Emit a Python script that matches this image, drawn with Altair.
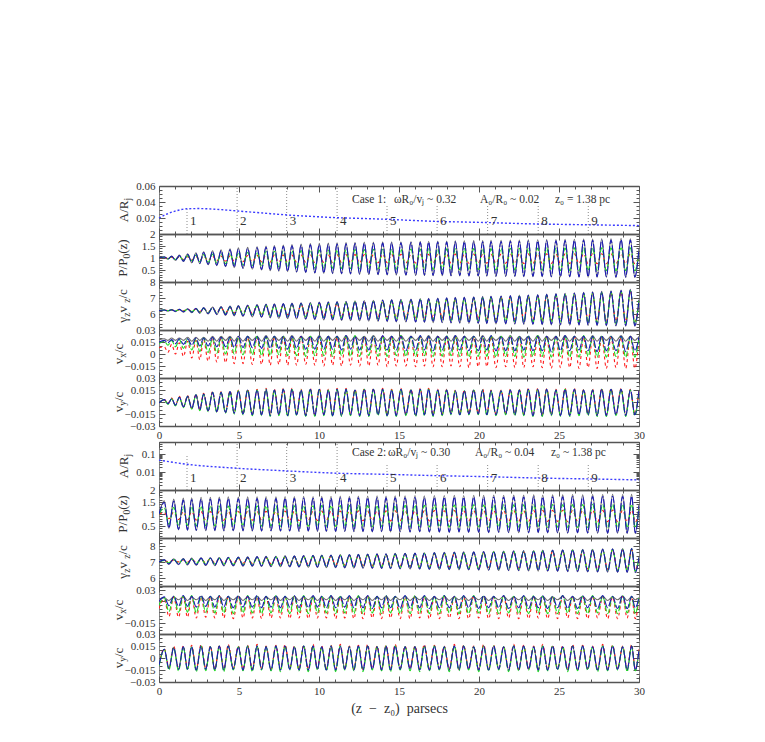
import altair as alt
import pandas as pd

# ------------------------------------------------------------------ data
# positions (pc) of the troughs (first entry = start) and peaks (last entry = end)
Z1_LO = [0.0, 0.56, 1.03, 1.53, 2.05, 2.55, 3.07, 3.61, 4.16, 4.70,
         5.25, 5.83, 6.41, 6.95, 7.49, 8.04, 8.60, 9.17, 9.74, 10.30,
         10.85, 11.41, 11.97, 12.54, 13.11, 13.69, 14.26, 14.83, 15.43, 16.04,
         16.59, 17.13, 17.70, 18.25, 18.80, 19.37, 19.95, 20.49, 21.06, 21.67,
         22.24, 22.80, 23.37, 23.95, 24.52, 25.09, 25.67, 26.25, 26.82, 27.38,
         27.96, 28.56, 29.17, 29.74]
Z1_HI = [0.33, 0.79, 1.27, 1.79, 2.31, 2.79, 3.35, 3.88, 4.44, 4.96,
         5.54, 6.13, 6.69, 7.21, 7.77, 8.31, 8.88, 9.46, 10.02, 10.58,
         11.13, 11.69, 12.25, 12.83, 13.40, 13.98, 14.54, 15.12, 15.75, 16.33,
         16.85, 17.42, 17.98, 18.52, 19.08, 19.67, 20.23, 20.75, 21.38, 21.96,
         22.52, 23.08, 23.67, 24.23, 24.81, 25.38, 25.96, 26.54, 27.10, 27.67,
         28.25, 28.88, 29.46, 30.0]
Z2_LO = [0.0, 0.62, 1.22, 1.78, 2.33, 2.92, 3.49, 4.05, 4.64, 5.25,
         5.83, 6.41, 7.00, 7.59, 8.17, 8.75, 9.33, 9.90, 10.46, 11.04,
         11.61, 12.18, 12.75, 13.33, 13.91, 14.47, 15.07, 15.69, 16.29, 16.90,
         17.52, 18.14, 18.75, 19.35, 19.98, 20.60, 21.23, 21.85, 22.48, 23.10,
         23.70, 24.29, 24.91, 25.54, 26.16, 26.79, 27.41, 28.04, 28.66, 29.26,
         29.77]
Z2_HI = [0.33, 0.92, 1.52, 2.04, 2.63, 3.21, 3.77, 4.33, 4.96, 5.54,
         6.13, 6.69, 7.31, 7.88, 8.46, 9.04, 9.63, 10.17, 10.75, 11.33,
         11.90, 12.46, 13.04, 13.63, 14.19, 14.76, 15.38, 16.00, 16.58, 17.21,
         17.83, 18.46, 19.04, 19.67, 20.29, 20.92, 21.54, 22.17, 22.79, 23.42,
         23.98, 24.60, 25.23, 25.85, 26.48, 27.10, 27.73, 28.35, 28.98, 29.54,
         30.0]

# amplitude A/Rj along the jet
A1_Z = [0, 0.5, 1.0, 1.75, 2.5, 3.5, 4.9, 6.5, 8.0, 9.5, 11.1, 12.7, 14.2, 15.8,
        17.4, 19.0, 20.5, 22.1, 23.7, 25.2, 26.8, 28.4, 30]
A1_V = [0.0200, 0.0250, 0.0285, 0.0315, 0.0318, 0.0310, 0.0288, 0.0262, 0.0238,
        0.0220, 0.0204, 0.0194, 0.0184, 0.0170, 0.0157, 0.0150, 0.0143, 0.0133,
        0.0125, 0.0120, 0.0115, 0.0110, 0.0105]
A2_Z = [0, 1.75, 4.9, 8.0, 11.1, 14.2, 17.4, 20.5, 23.7, 26.8, 30]
A2_V = [0.048, 0.028, 0.0167, 0.0118, 0.0088, 0.0076, 0.0064, 0.0056, 0.0047,
        0.0042, 0.0037]

MARK_Z = [1.75, 4.88, 7.98, 11.13, 14.25, 17.38, 20.54, 23.70, 26.83]
MARK_T = ["1", "2", "3", "4", "5", "6", "7", "8", "9"]
MARK1_TOP = [0.031, 0.06, 0.06, 0.06, 0.037, 0.036, 0.036, 0.036, 0.035]
MARK2_TOP = [0.1, 0.5, 0.5, 0.5, 0.032, 0.032, 0.032, 0.032, 0.032]
MARK1_LABEL_Y = 0.0162
MARK2_LABEL_Y = 0.0048

# ---- case 1, P/P0(z)
P1_GREY_HI = [1.05, 1.08, 1.12, 1.18, 1.22, 1.26, 1.30, 1.34, 1.38, 1.42,
              1.45, 1.47, 1.50, 1.52, 1.54, 1.56, 1.58, 1.60, 1.61, 1.62,
              1.63, 1.64, 1.65, 1.66, 1.66, 1.67, 1.68, 1.68, 1.69, 1.70,
              1.70, 1.71, 1.71, 1.72, 1.72, 1.73, 1.73, 1.74, 1.74, 1.75,
              1.75, 1.76, 1.76, 1.77, 1.77, 1.78, 1.78, 1.79, 1.79, 1.80,
              1.80, 1.81, 1.80, 1.40]
P1_GREY_LO = [1.00, 0.95, 0.90, 0.86, 0.80, 0.76, 0.72, 0.68, 0.64, 0.60,
              0.56, 0.53, 0.50, 0.47, 0.45, 0.43, 0.41, 0.39, 0.37, 0.36,
              0.35, 0.34, 0.33, 0.32, 0.31, 0.30, 0.29, 0.29, 0.28, 0.27,
              0.27, 0.26, 0.26, 0.25, 0.25, 0.24, 0.24, 0.24, 0.23, 0.23,
              0.23, 0.22, 0.22, 0.22, 0.21, 0.21, 0.21, 0.20, 0.20, 0.20,
              0.20, 0.19, 0.19, 0.19]
P1_BLUE_HI = [1.04, 1.07, 1.10, 1.15, 1.19, 1.23, 1.27, 1.30, 1.34, 1.37,
              1.40, 1.42, 1.45, 1.47, 1.49, 1.51, 1.53, 1.55, 1.56, 1.57,
              1.58, 1.59, 1.60, 1.61, 1.61, 1.62, 1.63, 1.63, 1.64, 1.65,
              1.65, 1.66, 1.66, 1.67, 1.67, 1.68, 1.68, 1.69, 1.69, 1.70,
              1.70, 1.71, 1.71, 1.72, 1.72, 1.73, 1.73, 1.74, 1.74, 1.75,
              1.75, 1.76, 1.75, 1.38]
P1_BLUE_LO = [1.00, 0.96, 0.91, 0.87, 0.82, 0.78, 0.74, 0.70, 0.66, 0.62,
              0.58, 0.55, 0.52, 0.49, 0.47, 0.45, 0.43, 0.41, 0.39, 0.38,
              0.37, 0.36, 0.35, 0.34, 0.33, 0.32, 0.31, 0.31, 0.30, 0.29,
              0.29, 0.28, 0.28, 0.27, 0.27, 0.26, 0.26, 0.26, 0.25, 0.25,
              0.25, 0.24, 0.24, 0.24, 0.23, 0.23, 0.23, 0.22, 0.22, 0.22,
              0.22, 0.21, 0.21, 0.21]
P1_GREEN_HI = [1.03, 1.05, 1.07, 1.10, 1.12, 1.14, 1.16, 1.18, 1.20, 1.22,
               1.24, 1.25, 1.27, 1.28, 1.29, 1.30, 1.31, 1.32, 1.33, 1.33,
               1.34, 1.34, 1.35, 1.35, 1.36, 1.36, 1.36, 1.37, 1.37, 1.37,
               1.38, 1.38, 1.38, 1.38, 1.39, 1.39, 1.39, 1.39, 1.40, 1.40,
               1.40, 1.40, 1.41, 1.41, 1.41, 1.41, 1.42, 1.42, 1.42, 1.42,
               1.42, 1.43, 1.42, 1.20]
P1_GREEN_LO = [1.00, 0.97, 0.94, 0.91, 0.88, 0.85, 0.82, 0.79, 0.76, 0.73,
               0.71, 0.69, 0.67, 0.65, 0.63, 0.62, 0.61, 0.60, 0.59, 0.58,
               0.57, 0.56, 0.56, 0.55, 0.55, 0.54, 0.54, 0.53, 0.53, 0.53,
               0.52, 0.52, 0.52, 0.51, 0.51, 0.51, 0.51, 0.50, 0.50, 0.50,
               0.50, 0.49, 0.49, 0.49, 0.49, 0.48, 0.48, 0.48, 0.48, 0.48,
               0.47, 0.47, 0.47, 0.47]
P1_RED_HI = [1.02, 1.03, 1.04, 1.05, 1.06, 1.07, 1.08, 1.08, 1.09, 1.10,
             1.10, 1.11, 1.11, 1.12, 1.12, 1.12, 1.13, 1.13, 1.13, 1.13,
             1.14, 1.14, 1.14, 1.14, 1.14, 1.15, 1.15, 1.15, 1.15, 1.15,
             1.15, 1.15, 1.16, 1.16, 1.16, 1.16, 1.16, 1.16, 1.16, 1.17,
             1.17, 1.17, 1.17, 1.17, 1.17, 1.17, 1.17, 1.18, 1.18, 1.18,
             1.18, 1.18, 1.18, 1.05]
P1_RED_LO = [1.00, 0.98, 0.96, 0.94, 0.92, 0.91, 0.89, 0.88, 0.87, 0.86,
             0.85, 0.84, 0.84, 0.83, 0.83, 0.82, 0.82, 0.82, 0.81, 0.81,
             0.81, 0.81, 0.80, 0.80, 0.80, 0.80, 0.80, 0.79, 0.79, 0.79,
             0.79, 0.79, 0.79, 0.78, 0.78, 0.78, 0.78, 0.78, 0.78, 0.78,
             0.77, 0.77, 0.77, 0.77, 0.77, 0.77, 0.77, 0.77, 0.76, 0.76,
             0.76, 0.76, 0.76, 0.76]

# ---- case 1, gamma_z v_z / c
G1_GREY_HI = [6.26, 6.28, 6.30, 6.33, 6.36, 6.40, 6.43, 6.46, 6.50, 6.53,
              6.56, 6.59, 6.62, 6.64, 6.66, 6.68, 6.70, 6.72, 6.74, 6.76,
              6.78, 6.80, 6.82, 6.84, 6.86, 6.88, 6.90, 6.92, 6.94, 6.96,
              6.98, 7.00, 7.02, 7.04, 7.06, 7.08, 7.10, 7.12, 7.14, 7.16,
              7.18, 7.20, 7.22, 7.25, 7.28, 7.30, 7.33, 7.36, 7.39, 7.42,
              7.45, 7.50, 7.55, 6.90]
G1_GREY_LO = [6.22, 6.18, 6.15, 6.12, 6.08, 6.04, 6.00, 5.96, 5.92, 5.88,
              5.85, 5.82, 5.79, 5.76, 5.73, 5.71, 5.69, 5.67, 5.65, 5.63,
              5.61, 5.60, 5.58, 5.57, 5.55, 5.54, 5.52, 5.51, 5.50, 5.48,
              5.47, 5.46, 5.45, 5.43, 5.42, 5.41, 5.40, 5.39, 5.38, 5.37,
              5.36, 5.35, 5.34, 5.33, 5.32, 5.31, 5.30, 5.29, 5.28, 5.27,
              5.26, 5.25, 5.24, 5.23]
G1_BLUE_HI = [6.25, 6.27, 6.29, 6.31, 6.34, 6.38, 6.41, 6.44, 6.47, 6.50,
              6.53, 6.56, 6.59, 6.61, 6.63, 6.65, 6.67, 6.69, 6.71, 6.73,
              6.75, 6.77, 6.79, 6.81, 6.83, 6.85, 6.87, 6.89, 6.91, 6.93,
              6.95, 6.97, 6.99, 7.01, 7.03, 7.05, 7.07, 7.09, 7.11, 7.13,
              7.15, 7.17, 7.19, 7.22, 7.25, 7.27, 7.30, 7.33, 7.36, 7.39,
              7.42, 7.47, 7.52, 6.88]
G1_BLUE_LO = [6.22, 6.20, 6.17, 6.14, 6.11, 6.07, 6.03, 5.99, 5.96, 5.92,
              5.89, 5.86, 5.83, 5.80, 5.77, 5.75, 5.73, 5.71, 5.69, 5.67,
              5.65, 5.64, 5.62, 5.61, 5.59, 5.58, 5.56, 5.55, 5.54, 5.52,
              5.51, 5.50, 5.49, 5.47, 5.46, 5.45, 5.44, 5.43, 5.42, 5.41,
              5.40, 5.39, 5.38, 5.37, 5.36, 5.35, 5.34, 5.33, 5.32, 5.31,
              5.30, 5.29, 5.28, 5.27]
G1_GREEN_HI = [6.25, 6.26, 6.28, 6.30, 6.32, 6.35, 6.38, 6.40, 6.43, 6.46,
               6.49, 6.51, 6.54, 6.56, 6.58, 6.60, 6.62, 6.64, 6.66, 6.68,
               6.70, 6.72, 6.74, 6.76, 6.78, 6.80, 6.82, 6.84, 6.86, 6.88,
               6.90, 6.92, 6.94, 6.96, 6.98, 7.00, 7.02, 7.04, 7.06, 7.08,
               7.10, 7.12, 7.14, 7.17, 7.20, 7.22, 7.25, 7.28, 7.31, 7.34,
               7.37, 7.42, 7.47, 6.90]
G1_GREEN_LO = [6.22, 6.21, 6.19, 6.17, 6.15, 6.12, 6.09, 6.06, 6.03, 6.00,
               5.98, 5.95, 5.93, 5.90, 5.88, 5.86, 5.84, 5.82, 5.80, 5.78,
               5.77, 5.75, 5.74, 5.72, 5.71, 5.69, 5.68, 5.67, 5.65, 5.64,
               5.63, 5.62, 5.61, 5.59, 5.58, 5.57, 5.56, 5.55, 5.54, 5.53,
               5.52, 5.51, 5.50, 5.49, 5.48, 5.47, 5.46, 5.45, 5.44, 5.43,
               5.42, 5.41, 5.40, 5.39]
G1_RED_HI = [6.24, 6.25, 6.27, 6.29, 6.31, 6.34, 6.36, 6.38, 6.41, 6.43,
             6.46, 6.48, 6.50, 6.52, 6.54, 6.56, 6.58, 6.60, 6.62, 6.64,
             6.66, 6.68, 6.70, 6.72, 6.74, 6.76, 6.78, 6.80, 6.82, 6.84,
             6.86, 6.88, 6.90, 6.92, 6.94, 6.96, 6.98, 7.00, 7.02, 7.04,
             7.06, 7.08, 7.10, 7.13, 7.16, 7.18, 7.21, 7.24, 7.27, 7.30,
             7.33, 7.38, 7.43, 6.88]
G1_RED_LO = [6.22, 6.22, 6.21, 6.20, 6.18, 6.16, 6.14, 6.12, 6.09, 6.07,
             6.05, 6.03, 6.01, 5.99, 5.97, 5.95, 5.94, 5.92, 5.90, 5.89,
             5.87, 5.86, 5.85, 5.83, 5.82, 5.81, 5.80, 5.79, 5.78, 5.76,
             5.75, 5.74, 5.73, 5.72, 5.71, 5.70, 5.69, 5.68, 5.67, 5.66,
             5.65, 5.64, 5.63, 5.62, 5.61, 5.60, 5.59, 5.58, 5.57, 5.56,
             5.55, 5.54, 5.53, 5.52]

# ---- case 1, vx/c (units of 1e-3)
X1_GREY_HI = [19, 20, 20, 21, 21, 21, 22, 22, 22, 22,
              22, 22, 23, 22, 22, 23, 22, 22, 23, 22,
              22, 23, 22, 22, 23, 22, 22, 23, 22, 22,
              23, 22, 22, 23, 22, 22, 23, 22, 22, 23,
              22, 22, 23, 22, 22, 23, 22, 22, 23, 22,
              22, 23, 22, 22]
X1_GREY_LO = [18, 17, 17, 17, 16, 17, 16, 16, 17, 16,
              16, 17, 16, 16, 17, 16, 16, 17, 16, 16,
              17, 16, 16, 17, 16, 16, 17, 16, 16, 17,
              16, 16, 17, 16, 16, 17, 16, 16, 17, 16,
              16, 17, 16, 16, 17, 16, 16, 17, 16, 16,
              17, 16, 16, 17]
X1_BLUE_HI = [17, 18, 19, 19, 20, 20, 21, 21, 21, 22,
              22, 22, 22, 22, 22, 22, 22, 22, 22, 22,
              22, 23, 22, 22, 22, 23, 22, 22, 22, 23,
              22, 22, 22, 23, 22, 22, 22, 23, 22, 22,
              22, 23, 22, 22, 22, 23, 22, 22, 22, 23,
              22, 22, 22, 21]
X1_BLUE_LO = [15, 14, 13, 12, 11, 10, 10, 9, 9, 8,
              8, 8, 7, 7, 7, 6, 7, 6, 6, 6,
              6, 5, 6, 5, 5, 6, 5, 5, 4, 5,
              5, 4, 5, 4, 5, 4, 4, 5, 4, 4,
              4, 5, 4, 4, 3, 4, 4, 5, 4, 3,
              4, 4, 3, 4]
X1_GREEN_HI = [16, 17, 18, 19, 19, 20, 20, 21, 21, 21,
               22, 22, 22, 22, 22, 22, 22, 22, 22, 22,
               22, 22, 23, 22, 22, 22, 22, 23, 22, 22,
               22, 22, 23, 22, 22, 22, 22, 23, 22, 22,
               22, 22, 23, 22, 22, 22, 22, 23, 22, 22,
               22, 22, 22, 21]
X1_GREEN_LO = [13, 11, 9, 7, 5, 3, 2, 1, 0, 0,
               -1, -1, -2, -2, -1, -2, -2, -3, -2, -2,
               -3, -2, -3, -3, -2, -3, -3, -2, -3, -3,
               -2, -3, -3, -2, -3, -4, -3, -3, -4, -3,
               -3, -4, -3, -3, -4, -3, -4, -4, -3, -4,
               -4, -3, -4, -4]
X1_RED_HI = [9, 12, 14, 16, 17, 18, 19, 20, 20, 21,
             21, 21, 21, 22, 21, 21, 22, 21, 21, 22,
             21, 21, 22, 21, 21, 22, 21, 21, 22, 21,
             21, 22, 21, 21, 22, 21, 21, 22, 21, 21,
             22, 21, 21, 22, 21, 21, 22, 21, 21, 22,
             21, 21, 22, 20]
X1_RED_LO = [8, 2, 0, -3, -5, -7, -9, -10, -11, -12,
             -12, -13, -13, -14, -13, -14, -14, -13, -14, -15,
             -14, -15, -14, -15, -15, -14, -16, -15, -15, -16,
             -15, -16, -16, -15, -16, -17, -16, -16, -17, -16,
             -17, -17, -16, -17, -18, -17, -17, -18, -17, -18,
             -18, -17, -18, -18]

# ---- case 1, vy/c (units of 1e-3)
Y1_BLUE_HI = [3, 4, 6, 7, 9, 10, 12, 12, 13, 14,
              15, 15, 16, 15, 16, 16, 15, 16, 16, 15,
              16, 16, 15, 16, 16, 16, 15, 16, 15, 16,
              16, 15, 15, 14, 14, 15, 15, 14, 14, 15,
              15, 16, 16, 16, 15, 16, 16, 15, 15, 16,
              16, 16, 15, 14]
Y1_BLUE_LO = [-1, -2, -4, -6, -8, -10, -11, -12, -13, -14,
              -15, -16, -16, -17, -16, -17, -16, -17, -17, -16,
              -17, -17, -16, -17, -17, -16, -17, -17, -16, -17,
              -16, -17, -16, -15, -16, -15, -15, -16, -16, -15,
              -16, -16, -17, -17, -16, -17, -17, -16, -16, -17,
              -17, -16, -17, -16]
Y1_RED_HI = [3, 5, 7, 8, 10, 11, 13, 13, 14, 15,
             16, 16, 17, 16, 17, 17, 16, 17, 17, 16,
             17, 17, 16, 17, 17, 17, 16, 17, 16, 17,
             17, 16, 16, 15, 15, 16, 16, 15, 15, 16,
             16, 17, 17, 17, 16, 17, 17, 16, 16, 17,
             17, 17, 16, 15]
Y1_RED_LO = [-1, -2, -4, -6, -8, -9, -11, -12, -13, -14,
             -15, -15, -16, -16, -15, -16, -15, -16, -16, -15,
             -16, -16, -15, -16, -16, -15, -16, -16, -15, -16,
             -15, -16, -15, -14, -15, -14, -14, -15, -15, -14,
             -15, -15, -16, -16, -15, -16, -16, -15, -15, -16,
             -16, -15, -16, -15]
Y1_GREEN_LO = [-1, -3, -5, -7, -9, -11, -12, -13, -14, -15,
               -16, -17, -17, -18, -17, -18, -17, -18, -18, -17,
               -18, -18, -17, -18, -18, -17, -18, -18, -17, -18,
               -17, -18, -17, -16, -17, -16, -16, -17, -17, -16,
               -17, -17, -18, -18, -17, -18, -18, -17, -17, -18,
               -18, -17, -18, -17]

# ---- case 2, P/P0(z)
P2_GREY_HI = [1.55, 1.62, 1.66, 1.68, 1.70, 1.70, 1.71, 1.72, 1.71, 1.72,
              1.72, 1.73, 1.72, 1.73, 1.73, 1.74, 1.73, 1.74, 1.74, 1.75,
              1.74, 1.75, 1.75, 1.76, 1.75, 1.76, 1.76, 1.77, 1.76, 1.77,
              1.77, 1.78, 1.77, 1.78, 1.78, 1.79, 1.78, 1.79, 1.79, 1.80,
              1.79, 1.80, 1.80, 1.81, 1.80, 1.81, 1.81, 1.82, 1.81, 1.82,
              1.40]
P2_GREY_LO = [1.00, 0.40, 0.34, 0.32, 0.31, 0.30, 0.30, 0.29, 0.30, 0.29,
              0.29, 0.28, 0.29, 0.28, 0.28, 0.27, 0.28, 0.27, 0.27, 0.26,
              0.27, 0.26, 0.26, 0.25, 0.26, 0.25, 0.25, 0.24, 0.25, 0.24,
              0.24, 0.23, 0.24, 0.23, 0.23, 0.22, 0.23, 0.22, 0.22, 0.21,
              0.22, 0.21, 0.21, 0.20, 0.21, 0.20, 0.20, 0.19, 0.20, 0.19,
              0.19]
P2_BLUE_HI = [1.48, 1.54, 1.58, 1.60, 1.62, 1.62, 1.63, 1.64, 1.63, 1.64,
              1.64, 1.65, 1.64, 1.65, 1.65, 1.66, 1.65, 1.66, 1.66, 1.67,
              1.66, 1.67, 1.67, 1.68, 1.67, 1.68, 1.68, 1.69, 1.68, 1.69,
              1.69, 1.70, 1.69, 1.70, 1.70, 1.71, 1.70, 1.71, 1.71, 1.72,
              1.71, 1.72, 1.72, 1.73, 1.72, 1.73, 1.73, 1.74, 1.73, 1.74,
              1.35]
P2_BLUE_LO = [1.00, 0.42, 0.36, 0.34, 0.33, 0.32, 0.32, 0.31, 0.32, 0.31,
              0.31, 0.30, 0.31, 0.30, 0.30, 0.29, 0.30, 0.29, 0.29, 0.28,
              0.29, 0.28, 0.28, 0.27, 0.28, 0.27, 0.27, 0.26, 0.27, 0.26,
              0.26, 0.25, 0.26, 0.25, 0.25, 0.24, 0.25, 0.24, 0.24, 0.23,
              0.24, 0.23, 0.23, 0.22, 0.23, 0.22, 0.22, 0.21, 0.22, 0.21,
              0.21]
P2_GREEN_HI = [1.25, 1.28, 1.30, 1.31, 1.32, 1.32, 1.33, 1.33, 1.32, 1.33,
               1.33, 1.34, 1.33, 1.34, 1.34, 1.35, 1.34, 1.35, 1.35, 1.35,
               1.35, 1.36, 1.35, 1.36, 1.36, 1.36, 1.36, 1.37, 1.36, 1.37,
               1.37, 1.37, 1.37, 1.38, 1.37, 1.38, 1.38, 1.38, 1.38, 1.39,
               1.38, 1.39, 1.39, 1.39, 1.39, 1.40, 1.39, 1.40, 1.40, 1.40,
               1.20]
P2_GREEN_LO = [1.00, 0.58, 0.54, 0.52, 0.51, 0.51, 0.50, 0.50, 0.51, 0.50,
               0.50, 0.49, 0.50, 0.49, 0.49, 0.49, 0.49, 0.48, 0.49, 0.48,
               0.48, 0.48, 0.48, 0.47, 0.48, 0.47, 0.47, 0.47, 0.47, 0.46,
               0.47, 0.46, 0.46, 0.46, 0.46, 0.45, 0.46, 0.45, 0.45, 0.45,
               0.45, 0.44, 0.45, 0.44, 0.44, 0.44, 0.44, 0.43, 0.44, 0.43,
               0.43]
P2_RED_HI = [1.06, 1.08, 1.09, 1.10, 1.10, 1.10, 1.11, 1.11, 1.10, 1.11,
             1.11, 1.11, 1.11, 1.12, 1.11, 1.12, 1.12, 1.12, 1.12, 1.12,
             1.12, 1.13, 1.12, 1.13, 1.13, 1.13, 1.13, 1.13, 1.13, 1.14,
             1.13, 1.14, 1.14, 1.14, 1.14, 1.14, 1.14, 1.15, 1.14, 1.15,
             1.15, 1.15, 1.15, 1.15, 1.15, 1.16, 1.15, 1.16, 1.16, 1.16,
             1.05]
P2_RED_LO = [1.00, 0.80, 0.77, 0.76, 0.75, 0.75, 0.75, 0.74, 0.75, 0.74,
             0.74, 0.74, 0.74, 0.73, 0.74, 0.73, 0.73, 0.73, 0.73, 0.72,
             0.73, 0.72, 0.72, 0.72, 0.72, 0.71, 0.72, 0.71, 0.71, 0.71,
             0.71, 0.70, 0.71, 0.70, 0.70, 0.70, 0.70, 0.69, 0.70, 0.69,
             0.69, 0.69, 0.69, 0.68, 0.69, 0.68, 0.68, 0.68, 0.68, 0.67,
             0.67]

# ---- case 2, gamma_z v_z / c
G2_GREY_HI = [7.15, 7.20, 7.22, 7.24, 7.26, 7.27, 7.28, 7.30, 7.31, 7.32,
              7.34, 7.35, 7.36, 7.38, 7.39, 7.40, 7.42, 7.43, 7.44, 7.46,
              7.47, 7.48, 7.50, 7.51, 7.52, 7.54, 7.55, 7.56, 7.58, 7.59,
              7.60, 7.62, 7.63, 7.64, 7.66, 7.67, 7.68, 7.70, 7.71, 7.72,
              7.74, 7.75, 7.76, 7.78, 7.79, 7.80, 7.82, 7.83, 7.84, 7.86,
              7.30]
G2_GREY_LO = [7.00, 6.85, 6.83, 6.81, 6.80, 6.78, 6.77, 6.76, 6.75, 6.74,
              6.73, 6.72, 6.71, 6.70, 6.69, 6.68, 6.67, 6.66, 6.65, 6.64,
              6.63, 6.62, 6.61, 6.60, 6.59, 6.58, 6.57, 6.56, 6.55, 6.54,
              6.53, 6.52, 6.51, 6.50, 6.49, 6.48, 6.47, 6.46, 6.45, 6.44,
              6.43, 6.42, 6.41, 6.40, 6.39, 6.38, 6.37, 6.36, 6.35, 6.34,
              6.33]
G2_BLUE_HI = [7.13, 7.18, 7.20, 7.22, 7.24, 7.25, 7.26, 7.28, 7.29, 7.30,
              7.32, 7.33, 7.34, 7.36, 7.37, 7.38, 7.40, 7.41, 7.42, 7.44,
              7.45, 7.46, 7.48, 7.49, 7.50, 7.52, 7.53, 7.54, 7.56, 7.57,
              7.58, 7.60, 7.61, 7.62, 7.64, 7.65, 7.66, 7.68, 7.69, 7.70,
              7.72, 7.73, 7.74, 7.76, 7.77, 7.78, 7.80, 7.81, 7.82, 7.84,
              7.28]
G2_BLUE_LO = [7.00, 6.88, 6.86, 6.84, 6.83, 6.81, 6.80, 6.79, 6.78, 6.77,
              6.76, 6.75, 6.74, 6.73, 6.72, 6.71, 6.70, 6.69, 6.68, 6.67,
              6.66, 6.65, 6.64, 6.63, 6.62, 6.61, 6.60, 6.59, 6.58, 6.57,
              6.56, 6.55, 6.54, 6.53, 6.52, 6.51, 6.50, 6.49, 6.48, 6.47,
              6.46, 6.45, 6.44, 6.43, 6.42, 6.41, 6.40, 6.39, 6.38, 6.37,
              6.36]
G2_GREEN_HI = [7.10, 7.15, 7.17, 7.19, 7.21, 7.22, 7.23, 7.25, 7.26, 7.27,
               7.29, 7.30, 7.31, 7.33, 7.34, 7.35, 7.37, 7.38, 7.39, 7.41,
               7.42, 7.43, 7.45, 7.46, 7.47, 7.49, 7.50, 7.51, 7.53, 7.54,
               7.55, 7.57, 7.58, 7.59, 7.61, 7.62, 7.63, 7.65, 7.66, 7.67,
               7.69, 7.70, 7.71, 7.73, 7.74, 7.75, 7.77, 7.78, 7.79, 7.81,
               7.25]
G2_GREEN_LO = [7.00, 6.95, 6.93, 6.91, 6.90, 6.88, 6.87, 6.86, 6.85, 6.84,
               6.83, 6.82, 6.81, 6.80, 6.79, 6.78, 6.77, 6.76, 6.75, 6.74,
               6.73, 6.72, 6.71, 6.70, 6.69, 6.68, 6.67, 6.66, 6.65, 6.64,
               6.63, 6.62, 6.61, 6.60, 6.59, 6.58, 6.57, 6.56, 6.55, 6.54,
               6.53, 6.52, 6.51, 6.50, 6.49, 6.48, 6.47, 6.46, 6.45, 6.44,
               6.43]
G2_RED_HI = [7.06, 7.11, 7.13, 7.15, 7.17, 7.18, 7.19, 7.21, 7.22, 7.23,
             7.25, 7.26, 7.27, 7.29, 7.30, 7.31, 7.33, 7.34, 7.35, 7.37,
             7.38, 7.39, 7.41, 7.42, 7.43, 7.45, 7.46, 7.47, 7.49, 7.50,
             7.51, 7.53, 7.54, 7.55, 7.57, 7.58, 7.59, 7.61, 7.62, 7.63,
             7.65, 7.66, 7.67, 7.69, 7.70, 7.71, 7.73, 7.74, 7.75, 7.77,
             7.22]
G2_RED_LO = [7.00, 7.03, 7.01, 6.99, 6.98, 6.96, 6.95, 6.94, 6.93, 6.92,
             6.91, 6.90, 6.89, 6.88, 6.87, 6.86, 6.85, 6.84, 6.83, 6.82,
             6.81, 6.80, 6.79, 6.78, 6.77, 6.76, 6.75, 6.74, 6.73, 6.72,
             6.71, 6.70, 6.69, 6.68, 6.67, 6.66, 6.65, 6.64, 6.63, 6.62,
             6.61, 6.60, 6.59, 6.58, 6.57, 6.56, 6.55, 6.54, 6.53, 6.52,
             6.51]

# ---- case 2, vx/c (units of 1e-3)
X2_GREY_HI = [20, 21, 22, 21, 22, 21, 22, 21, 22, 21,
              22, 21, 22, 21, 22, 21, 22, 21, 22, 21,
              22, 21, 22, 21, 22, 21, 22, 21, 22, 21,
              22, 21, 22, 21, 22, 21, 22, 21, 22, 21,
              22, 21, 22, 21, 22, 21, 22, 21, 22, 21,
              20]
X2_GREY_LO = [18, 16, 17, 16, 17, 16, 17, 16, 17, 16,
              17, 16, 17, 16, 17, 16, 17, 16, 17, 16,
              17, 16, 17, 16, 17, 16, 17, 16, 17, 16,
              17, 16, 17, 16, 17, 16, 17, 16, 17, 16,
              17, 16, 17, 16, 17, 16, 17, 16, 17, 16,
              17]
X2_BLUE_HI = [21, 22, 23, 22, 23, 22, 23, 22, 23, 22,
              23, 22, 23, 22, 23, 22, 23, 22, 23, 22,
              23, 22, 23, 22, 23, 22, 23, 22, 23, 22,
              23, 22, 23, 22, 23, 22, 23, 22, 23, 22,
              23, 22, 23, 22, 23, 22, 23, 22, 23, 22,
              21]
X2_BLUE_LO = [15, 9, 8, 8, 7, 8, 7, 7, 6, 7,
              7, 6, 7, 6, 7, 6, 6, 7, 6, 6,
              7, 6, 6, 5, 6, 6, 5, 6, 6, 5,
              6, 6, 5, 6, 5, 6, 6, 5, 6, 5,
              6, 5, 6, 5, 5, 6, 5, 6, 5, 5,
              6]
X2_GREEN_HI = [20, 22, 22, 23, 22, 22, 23, 22, 22, 23,
               22, 22, 23, 22, 22, 23, 22, 22, 23, 22,
               22, 23, 22, 22, 23, 22, 22, 23, 22, 22,
               23, 22, 22, 23, 22, 22, 23, 22, 22, 23,
               22, 22, 23, 22, 22, 23, 22, 22, 23, 22,
               21]
X2_GREEN_LO = [10, 1, 0, 0, -1, 0, -1, -1, -2, -1,
               -1, -2, -1, -1, -2, -1, -2, -1, -1, -2,
               -1, -2, -2, -1, -2, -1, -2, -2, -1, -2,
               -2, -1, -2, -2, -1, -2, -2, -1, -2, -2,
               -1, -2, -2, -1, -2, -2, -1, -2, -2, -1,
               -2]
X2_RED_HI = [18, 21, 21, 22, 21, 21, 22, 21, 21, 22,
             21, 21, 22, 21, 21, 22, 21, 21, 22, 21,
             21, 22, 21, 21, 22, 21, 21, 22, 21, 21,
             22, 21, 21, 22, 21, 21, 22, 21, 21, 22,
             21, 21, 22, 21, 21, 22, 21, 21, 22, 21,
             20]
X2_RED_LO = [5, -6, -7, -7, -8, -7, -8, -8, -9, -8,
             -8, -9, -8, -8, -9, -8, -9, -8, -8, -9,
             -8, -9, -9, -8, -9, -8, -9, -9, -8, -9,
             -9, -8, -9, -9, -8, -9, -9, -8, -9, -9,
             -8, -9, -9, -8, -9, -9, -8, -9, -9, -8,
             -9]

# ---- case 2, vy/c (units of 1e-3)
Y2_BLUE_HI = [11, 13, 14, 14, 15, 14, 15, 15, 14, 15,
              15, 14, 15, 15, 14, 15, 15, 14, 15, 15,
              14, 15, 15, 14, 15, 15, 14, 14, 15, 15,
              14, 15, 15, 14, 15, 15, 14, 15, 15, 14,
              15, 15, 14, 15, 15, 14, 15, 15, 14, 15,
              10]
Y2_BLUE_LO = [-9, -13, -14, -14, -15, -14, -15, -15, -14, -15,
              -15, -14, -15, -15, -14, -15, -15, -14, -15, -15,
              -14, -15, -15, -14, -15, -15, -14, -14, -15, -15,
              -14, -15, -15, -14, -15, -15, -14, -15, -15, -14,
              -15, -15, -14, -15, -15, -14, -15, -15, -14, -15,
              -15]
Y2_RED_HI = [12, 15, 15, 16, 17, 15, 16, 17, 15, 16,
             17, 15, 16, 17, 15, 16, 17, 15, 16, 17,
             15, 16, 17, 15, 16, 17, 15, 15, 17, 16,
             15, 17, 16, 15, 17, 16, 15, 17, 16, 15,
             17, 16, 15, 17, 16, 15, 17, 16, 15, 17,
             11]
Y2_RED_LO = [-8, -12, -13, -13, -14, -13, -14, -14, -13, -14,
             -14, -13, -14, -14, -13, -14, -14, -13, -14, -14,
             -13, -14, -14, -13, -14, -14, -13, -13, -14, -14,
             -13, -14, -14, -13, -14, -14, -13, -14, -14, -13,
             -14, -14, -13, -14, -14, -13, -14, -14, -13, -14,
             -14]
Y2_GREEN_LO = [-10, -15, -16, -15, -17, -16, -16, -17, -15, -16,
               -17, -15, -16, -17, -15, -16, -17, -15, -16, -17,
               -15, -16, -17, -15, -16, -17, -15, -16, -17, -16,
               -15, -17, -16, -15, -17, -16, -15, -17, -16, -15,
               -17, -16, -15, -17, -16, -15, -17, -16, -15, -17,
               -16]

VEL_UNIT = 0.001

# ------------------------------------------------------------------ style
W, H = 480, 48
GAP = 16
TICK_FONT = "Liberation Serif"
TITLE_FONT = "Liberation Serif"
TXT = "#333333"
XS = alt.Scale(domain=[0, 30], nice=False, zero=False)
X_MAJOR = [0, 5, 10, 15, 20, 25, 30]
X_MINOR = list(range(0, 31))

STYLE = {
    "grey": ("#6c6c6c", None),
    "red": ("#ff1a1a", [3, 3]),
    "green": ("#1fdc1f", [6, 2]),
    "blue": ("#1a1ab4", [8, 2]),
}
DRAW_ORDER = ["grey", "red", "green", "blue"]

EM = {"A": .722, "R": .667, "P": .556, "/": .278, "(": .333, ")": .333,
      "z": .444, "v": .5, "c": .444, "x": .5, "y": .5, "j": .278, "0": .5,
      "γ": .46, " ": .25}
TITLE_SIZE = 13
SUB_SIZE = 9.5
NB = "\u00a0"


def text_w(t, sub):
    return sum(EM.get(ch, .5) for ch in t) * (SUB_SIZE if sub else TITLE_SIZE)


def wave(zlo, zhi, lo, hi, unit=1.0):
    n = min(len(zlo), len(zhi), len(lo), len(hi))
    z, v = [], []
    for i in range(n):
        z += [zlo[i], zhi[i]]
        v += [lo[i] * unit, hi[i] * unit]
    return pd.DataFrame({"z": z, "v": v, "o": list(range(len(z)))})


def frames(zlo, zhi, pairs, unit=1.0):
    return {k: wave(zlo, zhi, lo, hi, unit) for k, (lo, hi) in pairs.items()}


def title_layers(pieces, x=-36):
    total = sum(text_w(t, s) for t, s in pieces)
    y = H / 2 + total / 2
    anchor = pd.DataFrame({"k": [0]})
    out = []
    for t, s in pieces:
        out.append(alt.Chart(anchor).mark_text(
            angle=270, align="left", baseline="middle", font=TITLE_FONT,
            fontSize=SUB_SIZE if s else TITLE_SIZE, color=TXT).encode(
            x=alt.value(x + (3.5 if s else 0)), y=alt.value(y), text=alt.value(t)))
        y -= text_w(t, s)
    return out


def axis_layers(ys, ydom, ylab, ymaj, ymin, show_bottom=False, bottom_title=None):
    anchor = pd.DataFrame({"z": [0.0], "v": [ydom[0]]})

    def L(xax=None, yax=None):
        return alt.Chart(anchor).mark_point(opacity=0).encode(
            x=alt.X("z:Q", scale=XS, axis=xax),
            y=alt.Y("v:Q", scale=ys, axis=yax))

    c = dict(grid=False, title=None, labels=False)
    out = [
        L(xax=alt.Axis(orient="top", offset=-H, values=X_MAJOR, tickSize=6,
                       domain=True, domainWidth=1.3, **c)),
        L(xax=alt.Axis(orient="top", offset=-H, values=X_MINOR, tickSize=3,
                       domain=False, **c)),
        L(xax=alt.Axis(orient="bottom", offset=-H, values=X_MAJOR, tickSize=6,
                       domain=True, domainWidth=1.3, **c)),
        L(xax=alt.Axis(orient="bottom", offset=-H, values=X_MINOR, tickSize=3,
                       domain=False, **c)),
        L(yax=alt.Axis(orient="right", offset=-W, values=ymaj, tickSize=6,
                       domain=False, **c)),
        L(yax=alt.Axis(orient="right", offset=-W, values=ymin, tickSize=3,
                       domain=False, **c)),
        L(yax=alt.Axis(orient="left", offset=-W, values=ymaj, tickSize=6,
                       domain=False, **c)),
        L(yax=alt.Axis(orient="left", offset=-W, values=ymin, tickSize=3,
                       domain=False, **c)),
        L(yax=alt.Axis(orient="left", values=ylab, ticks=False, domain=False,
                       grid=False, title=None, labelPadding=4,
                       labelExpr="format(datum.value, '~g')")),
    ]
    if show_bottom:
        if bottom_title:
            ax = alt.Axis(orient="bottom", values=X_MAJOR, ticks=False, domain=False,
                          grid=False, format="d", labelPadding=3, labelFlush=False,
                          title=bottom_title, titlePadding=5)
        else:
            ax = alt.Axis(orient="bottom", values=X_MAJOR, ticks=False, domain=False,
                          grid=False, format="d", labelPadding=3, labelFlush=False,
                          title=None)
        out.append(L(xax=ax))
    return out


def wave_panel(fr, ydom, ylab, ymaj, ymin, title, title_x=-36, show_bottom=False,
               bottom_title=None):
    ys = alt.Scale(domain=ydom, nice=False, zero=False)
    layers = []
    for name in DRAW_ORDER:
        col, dash = STYLE[name]
        kw = dict(color=col, strokeWidth=1.1, interpolate="monotone", clip=True)
        if dash:
            kw["strokeDash"] = dash
        layers.append(alt.Chart(fr[name]).mark_line(**kw).encode(
            x=alt.X("z:Q", scale=XS, axis=None),
            y=alt.Y("v:Q", scale=ys, axis=None),
            order="o:Q"))
    layers += axis_layers(ys, ydom, ylab, ymaj, ymin, show_bottom, bottom_title)
    layers += title_layers(title, title_x)
    return alt.layer(*layers).resolve_axis(x="independent", y="independent").properties(
        width=W, height=H)


def amp_panel(az, av, ydom, ytype, ylab, ymaj, ymin, tops, laby, case_texts, case_y):
    ys = alt.Scale(domain=ydom, type=ytype, nice=False, zero=False)
    rules = pd.DataFrame({"z": MARK_Z, "v0": [ydom[0]] * len(MARK_Z), "v1": tops})
    labels = pd.DataFrame({"z": MARK_Z, "v": [laby] * len(MARK_Z), "t": MARK_T})
    curve = pd.DataFrame({"z": az, "v": av})
    layers = [
        alt.Chart(rules).mark_rule(color="#8a8a8a", strokeDash=[1, 2], strokeWidth=1).encode(
            x=alt.X("z:Q", scale=XS, axis=None),
            y=alt.Y("v0:Q", scale=ys, axis=None), y2="v1:Q"),
        alt.Chart(curve).mark_line(color="#3b3bff", strokeDash=[2, 2], strokeWidth=1.4,
                                   interpolate="monotone").encode(
            x=alt.X("z:Q", scale=XS, axis=None),
            y=alt.Y("v:Q", scale=ys, axis=None)),
        alt.Chart(labels).mark_text(align="left", baseline="middle", dx=3, font=TICK_FONT,
                                    fontSize=13, color=TXT).encode(
            x=alt.X("z:Q", scale=XS, axis=None),
            y=alt.Y("v:Q", scale=ys, axis=None), text="t:N"),
    ]
    anchor = pd.DataFrame({"k": [0]})
    for xpix, t in case_texts:
        layers.append(alt.Chart(anchor).mark_text(
            align="left", baseline="middle", font=TITLE_FONT, fontSize=11.5, color=TXT).encode(
            x=alt.value(xpix), y=alt.value(case_y), text=alt.value(t)))
    layers += axis_layers(ys, ydom, ylab, ymaj, ymin)
    layers += title_layers([("A/R", 0), ("j", 1)], -35)
    return alt.layer(*layers).resolve_axis(x="independent", y="independent").properties(
        width=W, height=H)


def steps(a, b, s):
    n = int(round((b - a) / s))
    return [round(a + i * s, 6) for i in range(n + 1)]


T_P = [("P/P", 0), ("0", 1), ("(z)", 0)]
T_G = [("γ", 0), ("z", 1), (" v", 0), ("z", 1), ("/c", 0)]
T_X = [("v", 0), ("x", 1), ("/c", 0)]
T_Y = [("v", 0), ("y", 1), ("/c", 0)]
LOG_MINOR = [k * 10.0 ** e for e in (-3, -2, -1) for k in range(2, 10) if k * 10.0 ** e <= 0.5]
V_TITLE_X = -40

# ------------------------------------------------------------------ case 1
c1_texts = [(193, "Case 1:"), (235, "ωR₀/vⱼ ~ 0.32"), (321, "A₀/R₀ ~ 0.02"),
            (396, "z₀ = 1.38 pc")]
p1a = amp_panel(A1_Z, A1_V, [0, 0.06], "linear", [0.02, 0.04, 0.06], [0.02, 0.04],
                steps(0.005, 0.055, 0.005), MARK1_TOP, MARK1_LABEL_Y, c1_texts, 14)
p1p = wave_panel(frames(Z1_LO, Z1_HI, {
    "grey": (P1_GREY_LO, P1_GREY_HI), "blue": (P1_BLUE_LO, P1_BLUE_HI),
    "green": (P1_GREEN_LO, P1_GREEN_HI), "red": (P1_RED_LO, P1_RED_HI)}),
    [0, 2], [0.5, 1, 1.5, 2], [0.5, 1, 1.5], steps(0.1, 1.9, 0.1), T_P)
p1g = wave_panel(frames(Z1_LO, Z1_HI, {
    "grey": (G1_GREY_LO, G1_GREY_HI), "blue": (G1_BLUE_LO, G1_BLUE_HI),
    "green": (G1_GREEN_LO, G1_GREEN_HI), "red": (G1_RED_LO, G1_RED_HI)}),
    [5, 8], [6, 7, 8], [6, 7], steps(5.2, 7.8, 0.2), T_G)
p1x = wave_panel(frames(Z1_LO, Z1_HI, {
    "grey": (X1_GREY_LO, X1_GREY_HI), "blue": (X1_BLUE_LO, X1_BLUE_HI),
    "green": (X1_GREEN_LO, X1_GREEN_HI), "red": (X1_RED_LO, X1_RED_HI)}, VEL_UNIT),
    [-0.03, 0.03], [-0.015, 0, 0.015, 0.03], [-0.015, 0, 0.015],
    steps(-0.025, 0.025, 0.005), T_X, V_TITLE_X)
p1y = wave_panel(frames(Z1_LO, Z1_HI, {
    "grey": (Y1_BLUE_LO, Y1_BLUE_HI), "blue": (Y1_BLUE_LO, Y1_BLUE_HI),
    "green": (Y1_GREEN_LO, Y1_BLUE_HI), "red": (Y1_RED_LO, Y1_RED_HI)}, VEL_UNIT),
    [-0.03, 0.03], [-0.03, -0.015, 0, 0.015, 0.03], [-0.015, 0, 0.015],
    steps(-0.025, 0.025, 0.005), T_Y, V_TITLE_X, show_bottom=True)

# ------------------------------------------------------------------ case 2
c2_texts = [(193, "Case 2:"), (229, "ωR₀/vⱼ ~ 0.30"), (316, "A₀/R₀ ~ 0.04"),
            (392, "z₀ ~ 1.38 pc")]
p2a = amp_panel(A2_Z, A2_V, [0.001, 0.5], "log", [0.01, 0.1], [0.01, 0.1],
                LOG_MINOR, MARK2_TOP, MARK2_LABEL_Y, c2_texts, 11)
p2p = wave_panel(frames(Z2_LO, Z2_HI, {
    "grey": (P2_GREY_LO, P2_GREY_HI), "blue": (P2_BLUE_LO, P2_BLUE_HI),
    "green": (P2_GREEN_LO, P2_GREEN_HI), "red": (P2_RED_LO, P2_RED_HI)}),
    [0, 2], [0.5, 1, 1.5, 2], [0.5, 1, 1.5], steps(0.1, 1.9, 0.1), T_P)
p2g = wave_panel(frames(Z2_LO, Z2_HI, {
    "grey": (G2_GREY_LO, G2_GREY_HI), "blue": (G2_BLUE_LO, G2_BLUE_HI),
    "green": (G2_GREEN_LO, G2_GREEN_HI), "red": (G2_RED_LO, G2_RED_HI)}),
    [5.5, 8.5], [6, 7, 8], [6, 7, 8], steps(5.6, 8.4, 0.2), T_G)
p2x = wave_panel(frames(Z2_LO, Z2_HI, {
    "grey": (X2_GREY_LO, X2_GREY_HI), "blue": (X2_BLUE_LO, X2_BLUE_HI),
    "green": (X2_GREEN_LO, X2_GREEN_HI), "red": (X2_RED_LO, X2_RED_HI)}, VEL_UNIT),
    [-0.03, 0.036], [-0.015, 0, 0.015, 0.03], [-0.015, 0, 0.015, 0.03],
    steps(-0.025, 0.035, 0.005), T_X, V_TITLE_X)
p2y = wave_panel(frames(Z2_LO, Z2_HI, {
    "grey": (Y2_BLUE_LO, Y2_BLUE_HI), "blue": (Y2_BLUE_LO, Y2_BLUE_HI),
    "green": (Y2_GREEN_LO, Y2_BLUE_HI), "red": (Y2_RED_LO, Y2_RED_HI)}, VEL_UNIT),
    [-0.03, 0.03], [-0.03, -0.015, 0, 0.015, 0.03], [-0.015, 0, 0.015],
    steps(-0.025, 0.025, 0.005), T_Y, V_TITLE_X, show_bottom=True,
    bottom_title="(z" + NB + NB + "−" + NB + NB + "z₀)" + NB + NB + "parsecs")

# empty spacer between the two cases (room for the first x-axis labels)
spacer = alt.Chart(pd.DataFrame({"k": [0]})).mark_point(opacity=0).encode(
    x=alt.value(0), y=alt.value(0)).properties(
    width=W, height=GAP, view=alt.ViewBackground(strokeOpacity=0))

chart = alt.vconcat(p1a, p1p, p1g, p1x, p1y, spacer, p2a, p2p, p2g, p2x, p2y,
                    spacing=0, bounds="flush").properties(
    padding={"left": 104, "top": 171, "right": 10, "bottom": 10}
).configure_view(stroke="#8a8a8a", strokeWidth=1).configure_axis(
    labelFont=TICK_FONT, labelFontSize=11, labelColor=TXT, tickColor="#555555",
    domainColor="#555555", tickWidth=1, titleFont=TITLE_FONT, titleFontSize=14,
    titleColor=TXT, titleFontWeight="normal")

chart.save("out.html", embed_options={"renderer": "svg", "actions": False})
